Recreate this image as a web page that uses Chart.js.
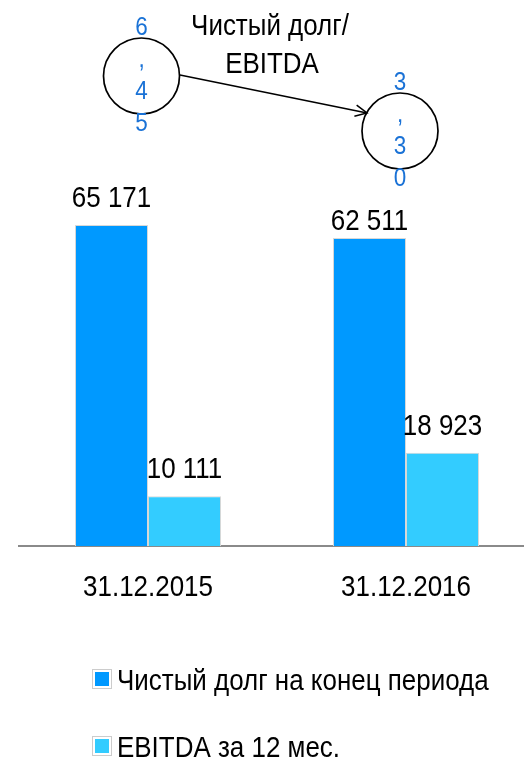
<!DOCTYPE html>
<html>
<head>
<meta charset="utf-8">
<script src="https://cdn.jsdelivr.net/npm/chart.js@4.4.1/dist/chart.umd.min.js"></script>
<style>
  html, body { margin: 0; padding: 0; background: #fff; overflow: hidden; }
  #wrap { width: 524px; height: 758px; overflow: hidden; }
</style>
</head>
<body>
<div id="wrap"><canvas id="chart" width="540" height="758"></canvas></div>
<script>
const periods = ["31.12.2015", "31.12.2016"];
const seriesNames = ["Чистый долг на конец периода", "EBITDA за 12 мес."];
const netDebt = [65171, 62511];
const ebitda = [10111, 18923];
const ratioTitle = ["Чистый долг/", "EBITDA"];

const FONT = "'Liberation Sans', Arial, sans-serif";
const NARROW = 0.865; // no narrow font installed, squeeze text horizontally
const colors = ["#0099ff", "#33ccff"];
const labelGap = [[18, 8], [18, 18]]; // gap between value label and bar top

function fmt(v) {
  return String(v).replace(/\B(?=(\d{3})+(?!\d))/g, " ");
}

// draws condensed text, anchor x stays where it should
function narrowText(ctx, text, x, y) {
  ctx.save();
  ctx.translate(x, y);
  ctx.scale(NARROW, 1);
  ctx.fillText(text, 0, 0);
  ctx.restore();
}

const valueLabels = {
  id: "valueLabels",
  afterDatasetsDraw(chart) {
    const ctx = chart.ctx;
    ctx.save();
    ctx.font = "30px " + FONT;
    ctx.fillStyle = "#000";
    ctx.textAlign = "center";
    ctx.textBaseline = "alphabetic";
    chart.data.datasets.forEach((ds, di) => {
      chart.getDatasetMeta(di).data.forEach((bar, i) => {
        narrowText(ctx, fmt(ds.data[i]), bar.x, bar.y - labelGap[di][i]);
      });
    });
    // category labels under the axis
    const xs = chart.scales.x;
    periods.forEach((p, i) => {
      narrowText(ctx, p, xs.getPixelForValue(i), chart.chartArea.bottom + 50);
    });
    ctx.restore();
  },
};

const ratioNotes = {
  id: "ratioNotes",
  afterDraw(chart) {
    const ctx = chart.ctx;
    const xs = chart.scales.x;
    const circles = [
      { x: xs.getPixelForValue(0) - 6.5, y: 76 },
      { x: xs.getPixelForValue(1) - 6, y: 131 },
    ];
    ctx.save();
    // circles with stacked ratio digits
    circles.forEach((c, i) => {
      ctx.beginPath();
      ctx.arc(c.x, c.y, 38, 0, Math.PI * 2);
      ctx.strokeStyle = "#000";
      ctx.lineWidth = 1.7;
      ctx.stroke();
      const txt = (netDebt[i] / ebitda[i]).toFixed(2).replace(".", ",");
      ctx.font = "26px " + FONT;
      ctx.fillStyle = "#1a72d6";
      ctx.textAlign = "center";
      ctx.textBaseline = "middle";
      txt.split("").forEach((ch, k) => {
        narrowText(ctx, ch, c.x, c.y + (k - 1.5) * 32);
      });
    });
    // arrow
    const a = { x: circles[0].x + 38.5, y: circles[0].y - 1 };
    const b = { x: 367, y: 113 };
    ctx.beginPath();
    ctx.moveTo(a.x, a.y);
    ctx.lineTo(b.x, b.y);
    ctx.strokeStyle = "#000";
    ctx.lineWidth = 1.5;
    ctx.stroke();
    const ang = Math.atan2(b.y - a.y, b.x - a.x);
    ctx.beginPath();
    ctx.moveTo(b.x - 13 * Math.cos(ang - 0.45), b.y - 13 * Math.sin(ang - 0.45));
    ctx.lineTo(b.x, b.y);
    ctx.lineTo(b.x - 13 * Math.cos(ang + 0.45), b.y - 13 * Math.sin(ang + 0.45));
    ctx.stroke();
    // title
    ctx.font = "30px " + FONT;
    ctx.fillStyle = "#000";
    ctx.textAlign = "center";
    ctx.textBaseline = "alphabetic";
    narrowText(ctx, ratioTitle[0], 270, 35);
    narrowText(ctx, ratioTitle[1], 272, 73);
    // legend
    chart.data.datasets.forEach((ds, i) => {
      const y = 679 + i * 67;
      ctx.strokeStyle = "#cccccc";
      ctx.lineWidth = 1;
      ctx.strokeRect(92.5, y - 9.5, 19, 19);
      ctx.fillStyle = ds.backgroundColor;
      ctx.fillRect(95, y - 7, 14, 14);
      ctx.fillStyle = "#000";
      ctx.textAlign = "left";
      ctx.textBaseline = "alphabetic";
      narrowText(ctx, ds.label, 117, y + 11);
    });
    ctx.restore();
  },
};

new Chart(document.getElementById("chart"), {
  type: "bar",
  data: {
    labels: periods,
    datasets: [
      { label: seriesNames[0], data: netDebt, backgroundColor: colors[0], borderColor: "#d8d8d8", borderWidth: 1 },
      { label: seriesNames[1], data: ebitda, backgroundColor: colors[1], borderColor: "#d8d8d8", borderWidth: 1 },
    ],
  },
  options: {
    responsive: false,
    animation: false,
    layout: { padding: { left: 19, right: 5, top: 10, bottom: 212 } },
    categoryPercentage: 0.566,
    barPercentage: 1,
    plugins: { legend: { display: false }, tooltip: { enabled: false } },
    scales: {
      x: {
        grid: { display: false, drawTicks: false },
        border: { display: true, color: "#8a8a8a", width: 2 },
        ticks: { display: false },
      },
      y: { display: false, min: 0, max: 108800 },
    },
  },
  plugins: [valueLabels, ratioNotes],
});
</script>
</body>
</html>
